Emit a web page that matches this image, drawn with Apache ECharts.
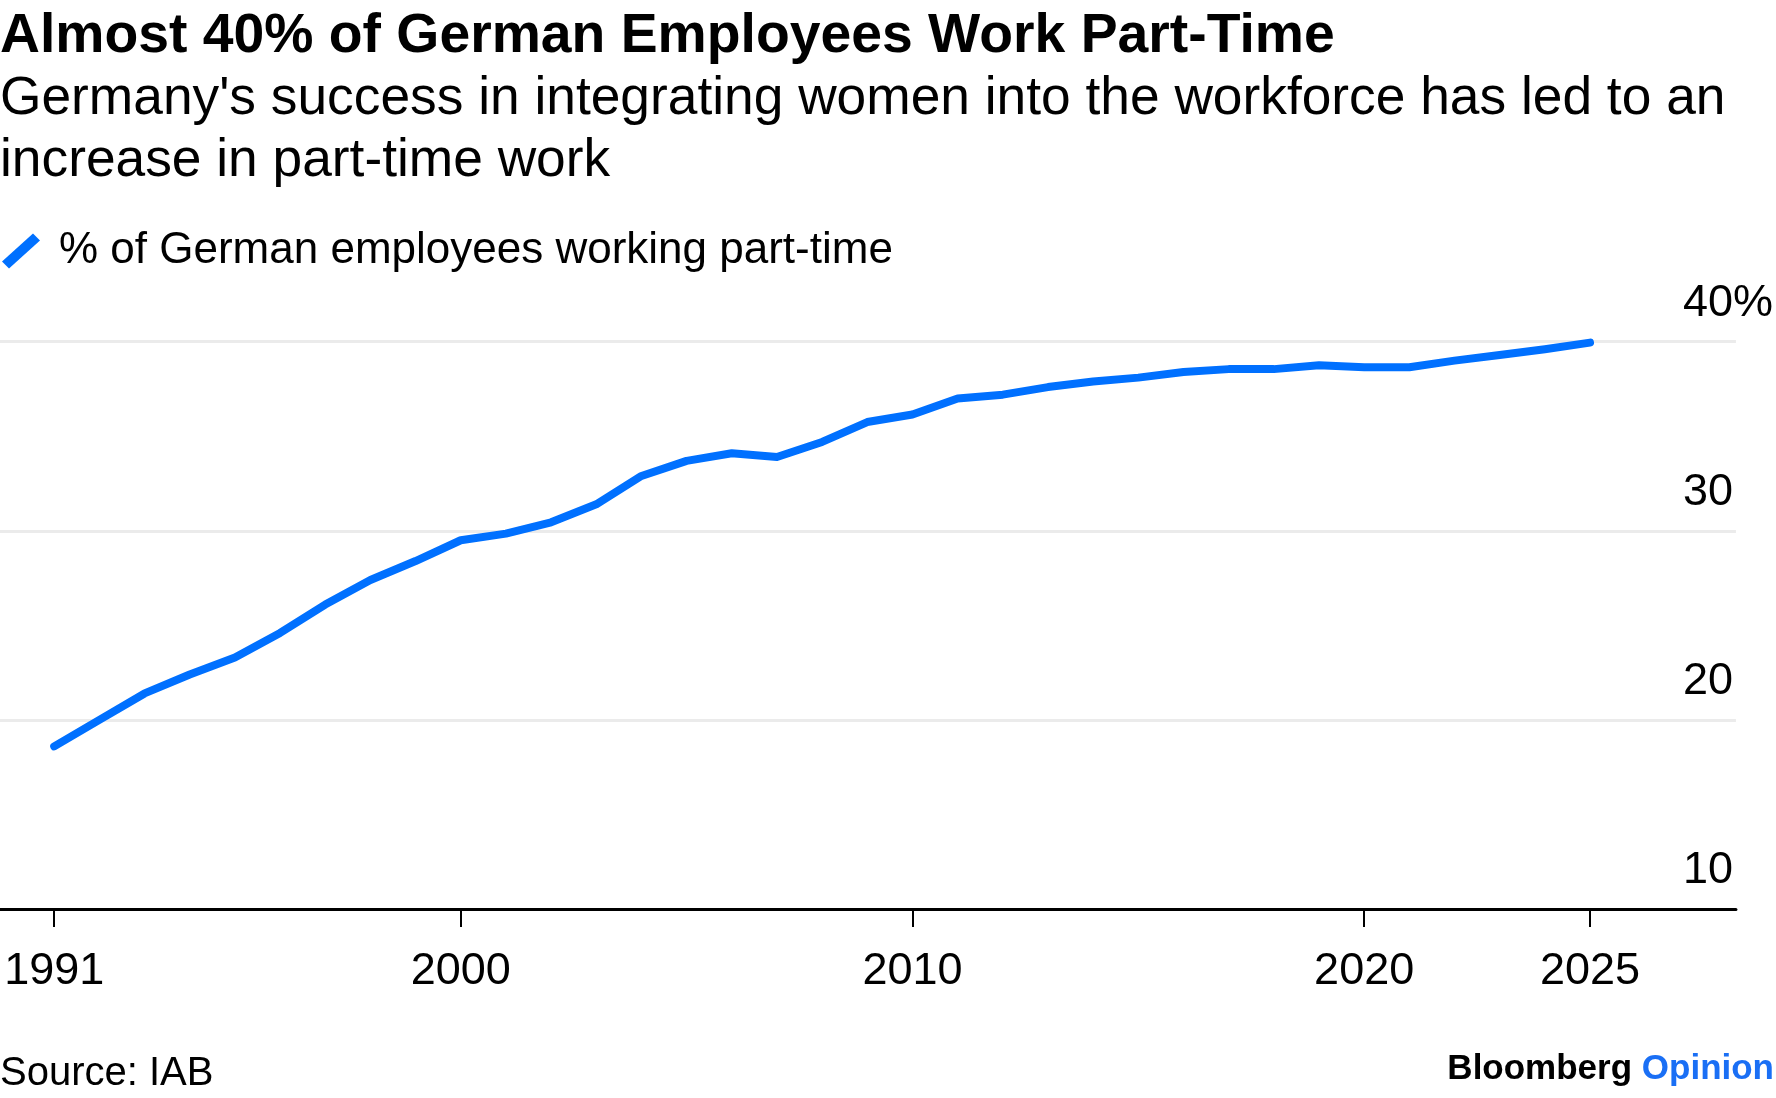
<!DOCTYPE html>
<html>
<head>
<meta charset="utf-8">
<script src="https://cdn.jsdelivr.net/npm/echarts@6/dist/echarts.min.js"></script>
<style>
  html, body { margin: 0; padding: 0; background: #ffffff; }
  #chart { width: 1776px; height: 1098px; }
</style>
</head>
<body>
<div id="chart"></div>
<script>
// ---- data ----
const years = [1991, 1992, 1993, 1994, 1995, 1996, 1997, 1998, 1999, 2000,
               2001, 2002, 2003, 2004, 2005, 2006, 2007, 2008, 2009, 2010,
               2011, 2012, 2013, 2014, 2015, 2016, 2017, 2018, 2019, 2020,
               2021, 2022, 2023, 2024, 2025];
const partTimeShare = [18.6, 20.0, 21.4, 22.4, 23.3, 24.6, 26.1, 27.4, 28.4, 29.5,
                       29.85, 30.45, 31.4, 32.9, 33.7, 34.1, 33.9, 34.7, 35.75, 36.15,
                       37.0, 37.2, 37.6, 37.9, 38.1, 38.4, 38.55, 38.55, 38.75, 38.65,
                       38.65, 39.0, 39.3, 39.6, 39.95];
const xTickYears = [1991, 2000, 2010, 2020, 2025];
const yTicks = [10, 20, 30, 40];
const seriesName = '% of German employees working part-time';
const titleText = 'Almost 40% of German Employees Work Part-Time';
const subtitleText = "Germany's success in integrating women into the workforce has led to an\nincrease in part-time work";
const sourceText = 'Source: IAB';

const FONT = '"Liberation Sans", Arial, Helvetica, sans-serif';
const BLUE = '#0070ff';

const chart = echarts.init(document.getElementById('chart'), null, { renderer: 'canvas' });

const option = {
  backgroundColor: '#ffffff',
  animation: false,
  textStyle: { fontFamily: FONT, color: '#000' },
  title: [
    {
      text: titleText, left: 0, top: 9, padding: 0,
      textStyle: { fontFamily: FONT, fontSize: 55.3, fontWeight: 'bold', color: '#000' }
    },
    {
      text: subtitleText, left: 0, top: 68, padding: 0,
      textStyle: { fontFamily: FONT, fontSize: 53.3, fontWeight: 'normal', color: '#000', lineHeight: 62 }
    },
    {
      text: sourceText, left: 0, top: 1054, padding: 0,
      textStyle: { fontFamily: FONT, fontSize: 40, fontWeight: 'normal', color: '#000' }
    },
    {
      text: '{b|Bloomberg} {o|Opinion}', right: 2, top: 1052, padding: 0,
      textStyle: {
        fontFamily: FONT, fontSize: 35,
        rich: {
          b: { fontFamily: FONT, fontSize: 35, fontWeight: 'bold', color: '#000' },
          o: { fontFamily: FONT, fontSize: 35, fontWeight: 'bold', color: '#1a6ff5' }
        }
      }
    }
  ],
  legend: {
    left: 2, top: 229, padding: 0,
    itemWidth: 38, itemHeight: 35,
    data: [{ name: seriesName, icon: 'path://M0,28 L31,0 L38,7 L7,35 Z' }],
    textStyle: { fontFamily: FONT, fontSize: 44, color: '#000', padding: [0, 0, 0, 14] }
  },
  grid: { left: 0, right: 40, top: 341.7, bottom: 189, containLabel: false },
  xAxis: {
    type: 'value',
    min: 1989.8, max: 2028.23,
    axisLine: { show: true, lineStyle: { color: '#000', width: 3 } },
    axisTick: { show: true, length: 18, lineStyle: { color: '#000', width: 2 }, customValues: xTickYears },
    axisLabel: {
      show: true, margin: 40, fontFamily: FONT, fontSize: 45, color: '#000',
      customValues: xTickYears,
      formatter: function (v) { return String(v); }
    },
    splitLine: { show: false }
  },
  yAxis: {
    type: 'value', position: 'right',
    min: 10, max: 40, interval: 10,
    axisLine: { show: false },
    axisTick: { show: false },
    axisLabel: {
      show: true, inside: true, margin: 53, align: 'left', verticalAlign: 'bottom',
      padding: [0, 0, 16, 0],
      fontFamily: FONT, fontSize: 45, color: '#000',
      customValues: yTicks,
      formatter: function (v) { return v === 40 ? '40%' : String(v); }
    },
    splitLine: { show: true, lineStyle: { color: '#ebebeb', width: 3 } }
  },
  series: [
    {
      name: seriesName,
      type: 'line',
      data: years.map(function (y, i) { return [y, partTimeShare[i]]; }),
      symbol: 'none',
      color: BLUE,
      lineStyle: { color: BLUE, width: 8, cap: 'round', join: 'round' },
      itemStyle: { color: BLUE },
      z: 5
    }
  ]
};

chart.setOption(option);
</script>
</body>
</html>
